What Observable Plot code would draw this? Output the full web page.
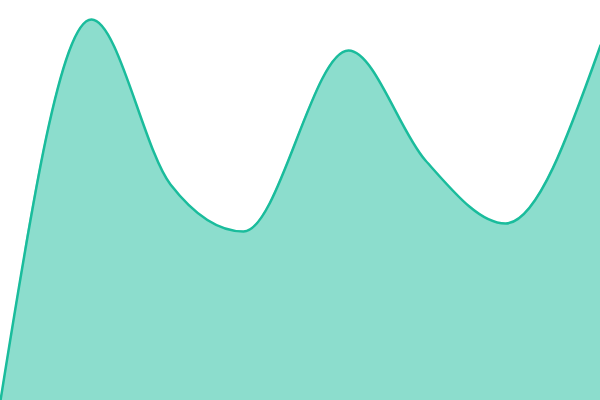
<!DOCTYPE html>
<html>
<head>
<meta charset="utf-8">
<script src="https://cdn.jsdelivr.net/npm/d3@7"></script>
<script src="https://cdn.jsdelivr.net/npm/@observablehq/plot@0.6"></script>
<style>
html,body{margin:0;padding:0;background:#fff;}
svg{display:block;}
</style>
</head>
<body>
<div id="chart"></div>
<script>
const positions = [0, 91, 170, 243, 348, 425, 505, 600];
const values = [0, 381, 216, 169, 350, 240, 177, 355];
const data = positions.map((p, i) => ({x: p, y: values[i]}));
const chart = Plot.plot({
  width: 600,
  height: 400,
  margin: 0,
  x: {domain: [0, 600], axis: null},
  y: {domain: [0, 400], axis: null},
  marks: [
    Plot.areaY(data, {x: "x", y: "y", curve: "monotone-x", fill: "#1abc9c", fillOpacity: 0.5}),
    Plot.lineY(data, {x: "x", y: "y", curve: "monotone-x", stroke: "#1abc9c", strokeWidth: 2.5})
  ]
});
document.getElementById("chart").appendChild(chart);
</script>
</body>
</html>
